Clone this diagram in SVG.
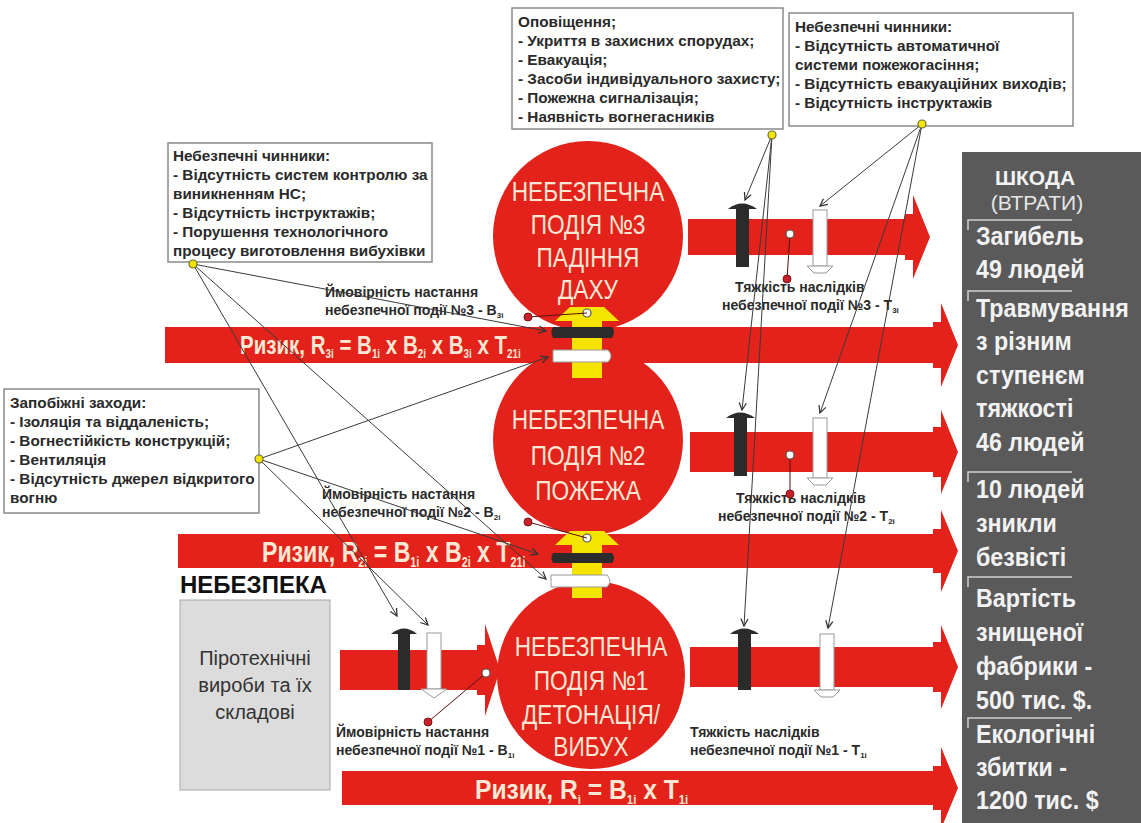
<svg xmlns="http://www.w3.org/2000/svg" width="1141" height="823" viewBox="0 0 1141 823">
<style>
.box{fill:#fff;stroke:#8a8a8a;stroke-width:1.5}
.bt{font-family:"Liberation Sans",Arial,sans-serif;font-weight:bold;font-size:15.3px;fill:#2a2a2a}
.lb{font-family:"Liberation Sans",Arial,sans-serif;font-weight:bold;font-size:14px;fill:#2a2a2a}
.red{fill:#e2221b}
.ct{font-family:"Liberation Sans",Arial,sans-serif;font-size:27px;fill:#fbe8d4;text-anchor:middle}
.rt{font-family:"Liberation Sans",Arial,sans-serif;font-weight:bold;fill:#fbe8d4}
.pt{font-family:"Liberation Sans",Arial,sans-serif;font-weight:bold;font-size:25px;fill:#f2f2f2}
.br{fill:none;stroke:#cfcfcf;stroke-width:1.5}
.ydot{fill:#f2e600;stroke:#6b6b3a;stroke-width:1.2}
.rdot{fill:#c8202a;stroke:#7a1515;stroke-width:1}
.wdot{fill:#fff;stroke:#555;stroke-width:1.2}
.lead{stroke:#5a1010;stroke-width:1;fill:none}
.con{stroke:#3a3a3a;stroke-width:1;fill:none;marker-end:url(#ah)}
.blk{fill:#2b2b2b}
.wht{fill:#fff;stroke:#9a9a9a;stroke-width:1}
.yel{fill:#f5e400}
</style>
<defs>
<marker id="ah" viewBox="0 0 10 10" refX="9" refY="5" markerWidth="9" markerHeight="9" orient="auto" markerUnits="userSpaceOnUse">
<path d="M1,1 L9,5 L1,9" fill="none" stroke="#333" stroke-width="1.4"/>
</marker>
</defs>
<rect width="1141" height="823" fill="#fff"/>

<!-- damage panel -->
<g id="panel">
<rect x="962" y="152" width="179" height="671" fill="#5a5a5a"/>
<text x="1035" y="185" text-anchor="middle" font-family="Liberation Sans,Arial,sans-serif" font-weight="bold" font-size="21" fill="#f2f2f2">ШКОДА</text>
<text x="1037" y="210" text-anchor="middle" font-family="Liberation Sans,Arial,sans-serif" font-size="21" fill="#e6e6e6">(ВТРАТИ)</text>
<path class="br" d="M968,230 V220 H1072"/>
<path class="br" d="M968,301 V291 H1072"/>
<path class="br" d="M968,482 V472 H1072"/>
<path class="br" d="M968,587 V577 H1072"/>
<path class="br" d="M968,728 V718 H1072"/>
<g transform="translate(976,0) scale(0.93,1)">
<text class="pt" x="0" y="245">Загибель</text>
<text class="pt" x="0" y="278">49 людей</text>
<text class="pt" x="0" y="317">Травмування</text>
<text class="pt" x="0" y="350">з різним</text>
<text class="pt" x="0" y="384">ступенєм</text>
<text class="pt" x="0" y="417">тяжкості</text>
<text class="pt" x="0" y="451">46 людей</text>
<text class="pt" x="0" y="498">10 людей</text>
<text class="pt" x="0" y="532">зникли</text>
<text class="pt" x="0" y="566">безвісті</text>
<text class="pt" x="0" y="607">Вартість</text>
<text class="pt" x="0" y="641">знищеної</text>
<text class="pt" x="0" y="675">фабрики -</text>
<text class="pt" x="0" y="709">500 тис. $.</text>
<text class="pt" x="0" y="743">Екологічні</text>
<text class="pt" x="0" y="776">збитки -</text>
<text class="pt" x="0" y="809">1200 тис. $</text>
</g>
</g>

<!-- red arrows -->
<g id="arrows">
<path class="red" d="M688,219 H905 V214 H913 V195 L930,237 L913,279 V260 H905 V255 H688 Z"/>
<path class="red" d="M165,327 H933 V322 H941 V303 L958,345 L941,387 V368 H933 V363 H165 Z"/>
<path class="red" d="M690,432 H933 V427 H941 V410 L958,452 L941,494 V477 H933 V472 H690 Z"/>
<path class="red" d="M178,534 H933 V529 H941 V510 L958,551 L941,592 V573 H933 V568 H178 Z"/>
<path class="red" d="M340,650 H477 V645 H485 V624 L500,670 L485,716 V695 H477 V690 H340 Z"/>
<path class="red" d="M690,647 H933 V642 H941 V625 L958,667 L941,709 V692 H933 V687 H690 Z"/>
<path class="red" d="M342,771 H933 V766 H941 V747 L958,788 L941,829 V810 H933 V805 H342 Z"/>
</g>

<!-- circles -->
<g id="event3">
<circle class="red" cx="588" cy="236" r="95"/>
<g transform="translate(588,0) scale(0.84,1)">
<text class="ct" x="0" y="201">НЕБЕЗПЕЧНА</text>
<text class="ct" x="0" y="234">ПОДІЯ №3</text>
<text class="ct" x="0" y="267">ПАДІННЯ</text>
<text class="ct" x="0" y="299">ДАХУ</text>
</g>
</g>
<g id="event2">
<circle class="red" cx="588" cy="440" r="95"/>
<g transform="translate(588,0) scale(0.84,1)">
<text class="ct" x="0" y="429">НЕБЕЗПЕЧНА</text>
<text class="ct" x="0" y="465">ПОДІЯ №2</text>
<text class="ct" x="0" y="500">ПОЖЕЖА</text>
</g>
</g>
<g id="event1">
<circle class="red" cx="591" cy="675" r="94"/>
<g transform="translate(591,0) scale(0.84,1)">
<text class="ct" x="0" y="656">НЕБЕЗПЕЧНА</text>
<text class="ct" x="0" y="690">ПОДІЯ №1</text>
<text class="ct" x="0" y="724">ДЕТОНАЦІЯ/</text>
<text class="ct" x="0" y="756">ВИБУХ</text>
</g>
</g>

<!-- risk formulas -->
<g id="risk3">
<text class="rt" font-size="25" transform="translate(240,354) scale(0.82,1)">Ризик, R<tspan font-size="12" dy="4">3i</tspan><tspan dy="-4"> = B</tspan><tspan font-size="12" dy="4">1i</tspan><tspan dy="-4"> x B</tspan><tspan font-size="12" dy="4">2i</tspan><tspan dy="-4"> x B</tspan><tspan font-size="12" dy="4">3i</tspan><tspan dy="-4"> x T</tspan><tspan font-size="12" dy="4">21i</tspan></text>
</g>
<g id="risk2">
<text class="rt" font-size="30" transform="translate(262,562) scale(0.77,1)">Ризик, R<tspan font-size="14" dy="5">2i</tspan><tspan dy="-5"> = B</tspan><tspan font-size="14" dy="5">1i</tspan><tspan dy="-5"> x B</tspan><tspan font-size="14" dy="5">2i</tspan><tspan dy="-5"> x T</tspan><tspan font-size="14" dy="5">21i</tspan></text>
</g>
<g id="risk1">
<text class="rt" font-size="28" transform="translate(475,799) scale(0.88,1)">Ризик, R<tspan font-size="13" dy="5">i</tspan><tspan dy="-5"> = B</tspan><tspan font-size="13" dy="5">1i</tspan><tspan dy="-5"> x T</tspan><tspan font-size="13" dy="5">1i</tspan></text>
</g>

<!-- stacks at junctions -->
<g id="stack3">
<rect class="yel" x="572" y="316" width="30" height="62"/>
<polygon class="yel" points="555,321 570,307 604,307 619,321"/>
<path class="blk" d="M553,327 H612 Q616,332 612,338 H553 Q550,332 553,327 Z"/>
<path class="wht" d="M553,350 H608 Q614,356 608,362 H553 Z"/>
<circle class="wdot" cx="587" cy="313" r="4"/>
</g>
<g id="stack2">
<rect class="yel" x="572" y="538" width="30" height="60"/>
<polygon class="yel" points="555,545 570,531 604,531 619,545"/>
<path class="blk" d="M553,553 H612 Q616,558 612,563 H553 Q550,558 553,553 Z"/>
<path class="wht" d="M551,575 H607 Q613,581 607,587 H551 Z"/>
<circle class="wdot" cx="587" cy="538" r="4"/>
</g>

<!-- bolts -->
<g id="bolts">
<path class="blk" d="M728,209 Q742,198 757,209 Z"/><rect class="blk" x="736" y="207" width="13" height="60"/>
<rect class="wht" x="813" y="210" width="14" height="56"/><path class="wht" d="M807,266 H833 L826,273 H814 Z"/>
<path class="blk" d="M726,418 Q740,407 755,418 Z"/><rect class="blk" x="734" y="416" width="13" height="60"/>
<rect class="wht" x="813" y="418" width="14" height="60"/><path class="wht" d="M807,478 H833 L826,485 H814 Z"/>
<path class="blk" d="M730,634 Q744,623 759,634 Z"/><rect class="blk" x="738" y="632" width="13" height="58"/>
<rect class="wht" x="820" y="634" width="14" height="56"/><path class="wht" d="M814,690 H840 L833,697 H821 Z"/>
<path class="blk" d="M391,634 Q404,623 417,634 Z"/><rect class="blk" x="398" y="632" width="12" height="58"/>
<rect class="wht" x="427" y="633" width="14" height="56"/><path class="wht" d="M421,689 H447 L434,698 Z"/>
</g>

<!-- hazard source -->
<g id="hazard">
<text x="180" y="593" font-family="Liberation Sans,Arial,sans-serif" font-weight="bold" font-size="24" fill="#111">НЕБЕЗПЕКА</text>
<rect x="180" y="600" width="150" height="190" fill="#dcdcdc" stroke="#a8a8a8" stroke-width="1"/>
<text x="255" y="665" text-anchor="middle" font-family="Liberation Sans,Arial,sans-serif" font-size="20" fill="#333">Піротехнічні</text>
<text x="255" y="692" text-anchor="middle" font-family="Liberation Sans,Arial,sans-serif" font-size="20" fill="#333">вироби та їх</text>
<text x="255" y="719" text-anchor="middle" font-family="Liberation Sans,Arial,sans-serif" font-size="20" fill="#333">складові</text>
</g>

<!-- text boxes -->
<g id="box-factors1">
<rect class="box" x="168" y="143" width="264" height="119"/>
<text class="bt" x="173" y="161">Небезпечні чинники:</text>
<text class="bt" x="173" y="180">- Відсутність систем контролю за</text>
<text class="bt" x="173" y="199">виникненням НС;</text>
<text class="bt" x="173" y="218">- Відсутність інструктажів;</text>
<text class="bt" x="173" y="237">- Порушення технологічного</text>
<text class="bt" x="173" y="256">процесу виготовлення вибухівки</text>
</g>
<g id="box-measures-top">
<rect class="box" x="512" y="8" width="271" height="121"/>
<text class="bt" x="518" y="27">Оповіщення;</text>
<text class="bt" x="518" y="46">- Укриття в захисних спорудах;</text>
<text class="bt" x="518" y="65">- Евакуація;</text>
<text class="bt" x="518" y="84">- Засоби індивідуального захисту;</text>
<text class="bt" x="518" y="103">- Пожежна сигналізація;</text>
<text class="bt" x="518" y="122">- Наявність вогнегасників</text>
</g>
<g id="box-factors2">
<rect class="box" x="789" y="13" width="284" height="113"/>
<text class="bt" x="795" y="32">Небезпечні чинники:</text>
<text class="bt" x="795" y="51">- Відсутність автоматичної</text>
<text class="bt" x="795" y="70">системи пожежогасіння;</text>
<text class="bt" x="795" y="89">- Відсутність евакуаційних виходів;</text>
<text class="bt" x="795" y="108">- Відсутність інструктажів</text>
</g>
<g id="box-measures-left">
<rect class="box" x="4" y="389" width="255" height="124"/>
<text class="bt" x="10" y="408">Запобіжні заходи:</text>
<text class="bt" x="10" y="427">- Ізоляція та віддаленість;</text>
<text class="bt" x="10" y="446">- Вогнестійкість конструкцій;</text>
<text class="bt" x="10" y="465">- Вентиляція</text>
<text class="bt" x="10" y="484">- Відсутність джерел відкритого</text>
<text class="bt" x="10" y="503">вогню</text>
</g>

<!-- labels -->
<g id="labels">
<text class="lb" x="325" y="297">Ймовірність настання</text>
<text class="lb" x="325" y="315">небезпечної події №3 - B<tspan font-size="8" dy="3">3i</tspan></text>
<text class="lb" x="322" y="499">Ймовірність настання</text>
<text class="lb" x="322" y="517">небезпечної події №2 - B<tspan font-size="8" dy="3">2i</tspan></text>
<text class="lb" x="336" y="737">Ймовірність настання</text>
<text class="lb" x="336" y="755">небезпечної події №1 - B<tspan font-size="8" dy="3">1i</tspan></text>
<text class="lb" x="735" y="292">Тяжкість наслідків</text>
<text class="lb" x="722" y="310">небезпечної події №3 - T<tspan font-size="8" dy="3">3i</tspan></text>
<text class="lb" x="736" y="503">Тяжкість наслідків</text>
<text class="lb" x="718" y="521">небезпечної події №2 - T<tspan font-size="8" dy="3">2i</tspan></text>
<text class="lb" x="690" y="737">Тяжкість наслідків</text>
<text class="lb" x="690" y="755">небезпечної події №1 - T<tspan font-size="8" dy="3">1i</tspan></text>
</g>

<!-- connectors -->
<g id="connectors">
<line class="con" x1="193" y1="264" x2="546" y2="331"/>
<line class="con" x1="193" y1="264" x2="397" y2="616"/>
<line class="con" x1="193" y1="264" x2="546" y2="579"/>
<line class="con" x1="259" y1="459" x2="548" y2="357"/>
<line class="con" x1="259" y1="459" x2="538" y2="554"/>
<line class="con" x1="259" y1="459" x2="428" y2="625"/>
<line class="con" x1="772" y1="135" x2="745" y2="200"/>
<line class="con" x1="772" y1="135" x2="742" y2="410"/>
<line class="con" x1="772" y1="135" x2="744" y2="626"/>
<line class="con" x1="922" y1="124" x2="820" y2="206"/>
<line class="con" x1="922" y1="124" x2="820" y2="413"/>
<line class="con" x1="922" y1="124" x2="828" y2="628"/>
<line class="lead" x1="528" y1="317" x2="587" y2="313"/>
<line class="lead" x1="528" y1="522" x2="587" y2="538"/>
<line class="lead" x1="428" y1="722" x2="486" y2="673"/>
<line class="lead" x1="787" y1="279" x2="790" y2="234"/>
<line class="lead" x1="790" y1="494" x2="790" y2="455"/>
<circle class="wdot" cx="486" cy="673" r="4"/>
<circle class="wdot" cx="790" cy="234" r="4"/>
<circle class="wdot" cx="790" cy="455" r="4"/>
<circle class="rdot" cx="528" cy="317" r="4"/>
<circle class="rdot" cx="528" cy="522" r="4"/>
<circle class="rdot" cx="428" cy="722" r="4"/>
<circle class="rdot" cx="787" cy="279" r="4"/>
<circle class="rdot" cx="790" cy="494" r="4"/>
<circle class="ydot" cx="193" cy="264" r="4"/>
<circle class="ydot" cx="259" cy="459" r="4"/>
<circle class="ydot" cx="772" cy="135" r="4"/>
<circle class="ydot" cx="922" cy="124" r="4"/>
</g>
</svg>
